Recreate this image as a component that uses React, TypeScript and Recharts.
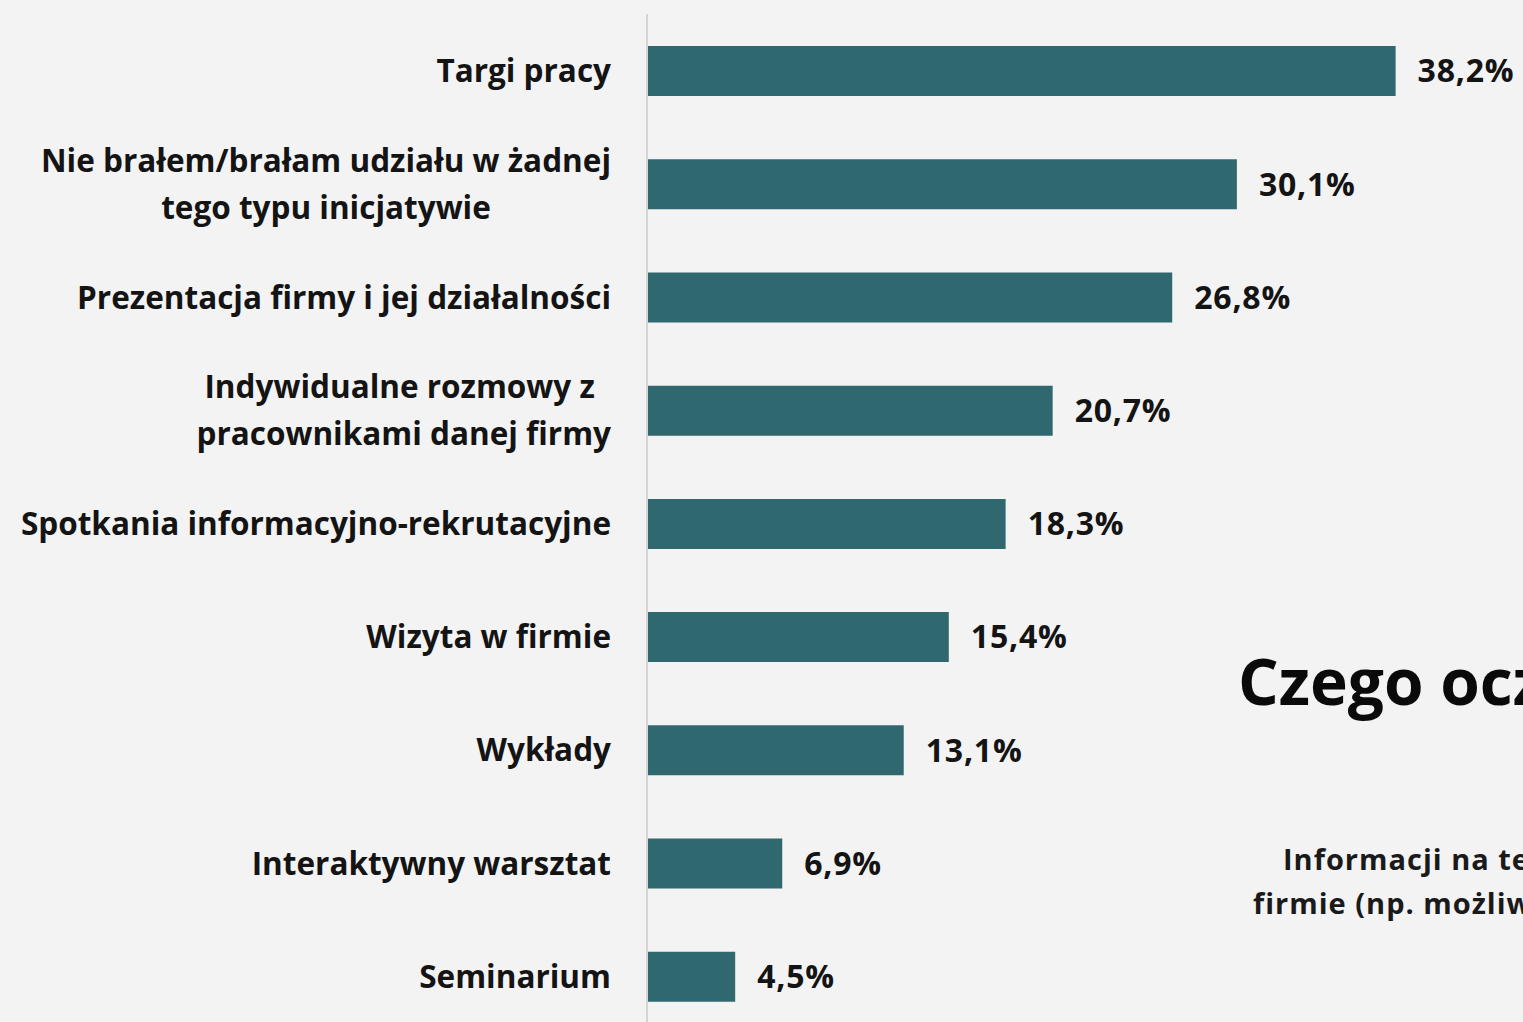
import React from 'react';
import { BarChart, Bar, XAxis, YAxis, LabelList } from 'recharts';

const categories = [
  'Targi pracy',
  'Nie brałem/brałam udziału w żadnej\ntego typu inicjatywie',
  'Prezentacja firmy i jej działalności',
  'Indywidualne rozmowy z \npracownikami danej firmy',
  'Spotkania informacyjno-rekrutacyjne',
  'Wizyta w firmie',
  'Wykłady',
  'Interaktywny warsztat',
  'Seminarium',
];
const values = [38.2, 30.1, 26.8, 20.7, 18.3, 15.4, 13.1, 6.9, 4.5];

// tekst z sąsiedniego slajdu, ucięty przy prawej krawędzi
const titleText = 'Czego oczekujesz';
const noteLines = ['Informacji na temat', 'firmie (np. możliwości'];

const FONT = '"Open Sans", "Noto Sans", sans-serif';
const LABEL_SIZE = 31.5;
const VALUE_SIZE = 32;
const BAR_COLOR = '#30686f';
const BG = '#f3f3f3';

const data = categories.map((name, i) => ({ name, value: values[i] }));

let ctx: CanvasRenderingContext2D | null = null;
function measure(text: string) {
  if (!ctx) ctx = document.createElement('canvas').getContext('2d');
  if (!ctx) return text.length * LABEL_SIZE * 0.55;
  ctx.font = `bold ${LABEL_SIZE}px ${FONT}`;
  return ctx.measureText(text).width;
}

// etykiety kategorii: blok wyrównany do prawej, linie wyśrodkowane
const CategoryTick = ({ x, y, payload }: any) => {
  const lines = String(payload.value).split('\n');
  const w = Math.max(...lines.map(measure));
  const cx = x - w / 2;
  const lh = 47;
  const y0 = y + 11.5 - ((lines.length - 1) * lh) / 2;
  return (
    <g>
      {lines.map((l, i) => (
        <text
          key={i}
          x={cx}
          y={y0 + i * lh}
          textAnchor="middle"
          fontFamily={FONT}
          fontWeight={700}
          fontSize={LABEL_SIZE}
          fill="#141414"
          style={{ whiteSpace: 'pre' }}
        >
          {l}
        </text>
      ))}
    </g>
  );
};

export default function App() {
  return (
    <div style={{ position: 'fixed', left: 0, top: 0, width: 1523, height: 1022, overflow: 'hidden', background: BG }}>
      <BarChart
        width={1523}
        height={1033}
        data={data}
        layout="vertical"
        margin={{ top: 14, right: 0, bottom: 0, left: 0 }}
      >
        <XAxis type="number" domain={[0, 44.7]} hide />
        <YAxis
          type="category"
          dataKey="name"
          width={647}
          axisLine={{ stroke: '#d4d4d4', strokeWidth: 2 }}
          tickLine={false}
          tickSize={0}
          tickMargin={36}
          tick={<CategoryTick />}
          interval={0}
        />
        <Bar dataKey="value" fill={BAR_COLOR} barSize={50} isAnimationActive={false}>
          <LabelList
            dataKey="value"
            position="right"
            offset={22}
            formatter={(v: any) => Number(v).toFixed(1).replace('.', ',') + '%'}
            style={{ fontFamily: FONT, fontWeight: 700, fontSize: VALUE_SIZE, letterSpacing: 0.8, fill: '#141414' }}
          />
        </Bar>
      </BarChart>
      <svg width={1523} height={1022} style={{ position: 'absolute', left: 0, top: 0, pointerEvents: 'none' }}>
        <text x={1238} y={705} fontFamily={FONT} fontWeight={700} fontSize={64} fill="#0a0a0a">
          {titleText}
        </text>
        <text x={1283} y={870} fontFamily={FONT} fontWeight={700} fontSize={29} letterSpacing={1} fill="#1a1a1a">
          {noteLines[0]}
        </text>
        <text x={1253} y={914} fontFamily={FONT} fontWeight={700} fontSize={29} letterSpacing={1} fill="#1a1a1a">
          {noteLines[1]}
        </text>
      </svg>
    </div>
  );
}
